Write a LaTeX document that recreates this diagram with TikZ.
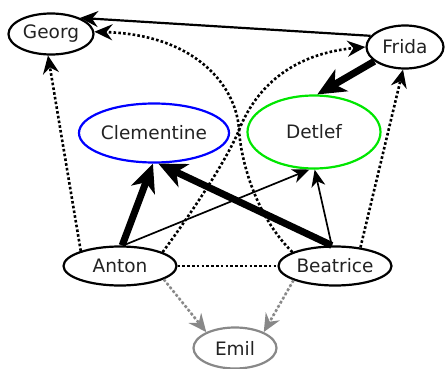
\documentclass[tikz,border=0pt]{standalone}
\usepackage{fontspec}
\setmainfont{DejaVu Sans}
\usetikzlibrary{arrows.meta,shapes.geometric}
\definecolor{txt}{HTML}{222222}
\definecolor{edgegray}{HTML}{888888}
\definecolor{dgreen}{HTML}{00E600}
\begin{document}
\begin{tikzpicture}[x=1pt,y=-1pt,
  person/.style={ellipse,draw,line width=2.2pt,inner sep=0pt,
    font=\fontsize{18.5}{20}\selectfont,text=txt},
  normaledge/.style={line width=2.2pt,-{Stealth[length=18pt,width=16pt,inset=6pt]}},
  thickedge/.style={line width=7pt,-{Stealth[length=28pt,width=25pt,inset=8pt]}},
  thinedge/.style={line width=1.7pt,-{Stealth[length=17pt,width=14pt,inset=5pt]}},
  dotedge/.style={line width=2.6pt,dash pattern=on 2.6pt off 2.2pt,
    -{Stealth[length=18pt,width=16pt,inset=6pt]}},
  dotline/.style={line width=2.6pt,dash pattern=on 2.6pt off 2.2pt},
  grayedge/.style={dotedge,draw=edgegray,fill=edgegray}
]
\useasboundingbox (0,0) rectangle (445,369);
\node[person,minimum width=85pt,minimum height=41pt] (georg) at (51,34) {Georg};
\node[person,minimum width=77pt,minimum height=43pt] (frida) at (405,47) {Frida};
\node[person,draw=blue,minimum width=127pt,minimum height=59pt] (clem) at (154,133) {Clementine};
\node[person,draw=dgreen,minimum width=133pt,minimum height=73pt] (detlef) at (314,132) {Detlef};
\node[person,minimum width=113pt,minimum height=39pt] (anton) at (120,266) {Anton};
\node[person,minimum width=113pt,minimum height=39pt] (beatrice) at (335,266) {Beatrice};
\node[person,draw=edgegray,minimum width=83pt,minimum height=41pt] (emil) at (235,348) {Emil};
\coordinate (cross) at (239,130);

\draw[normaledge] (frida.162) -- (georg.29);
\draw[dotedge] (beatrice.162) .. controls (255,215) and (241,160) .. (cross)
  .. controls (237,90) and (200,35) .. (georg.3);
\draw[dotedge] (anton.18) .. controls (190,215) and (227,160) .. (cross)
  .. controls (251,100) and (280,55) .. (frida.180);
\draw[dotedge] (anton.159) -- (georg.-98);
\draw[dotedge] (beatrice.36) -- (frida.-95);
\draw[dotline] (anton.east) -- (beatrice.west);
\draw[grayedge] (anton.-17) -- (emil.151);
\draw[grayedge] (beatrice.-161) -- (emil.29);
\draw[thinedge] (anton.81) -- (detlef.-97);
\draw[thinedge] (beatrice.99) -- (detlef.-89);
\draw[thickedge] (anton.84) -- (clem.-92);
\draw[thickedge] (beatrice.99) -- (clem.-82);
\draw[thickedge] (frida.-155) -- (detlef.85);
\end{tikzpicture}
\end{document}
